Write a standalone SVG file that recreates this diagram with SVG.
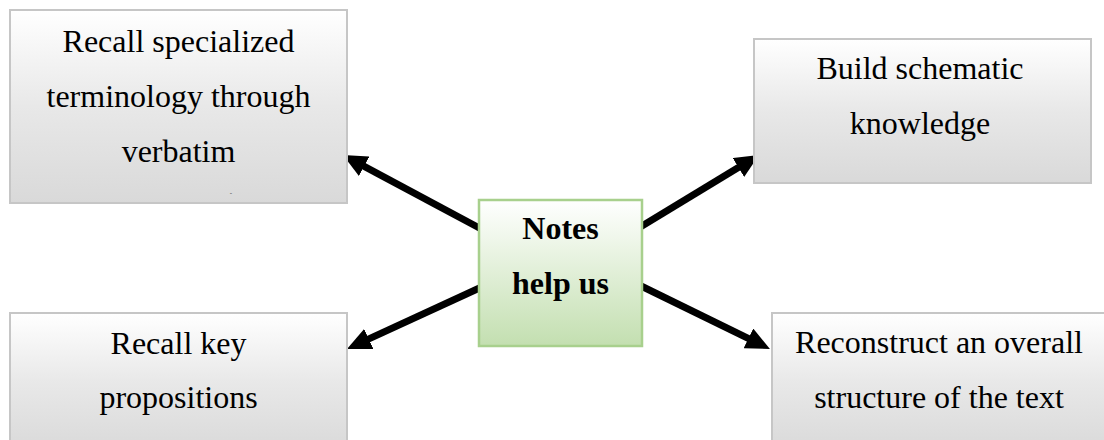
<svg xmlns="http://www.w3.org/2000/svg" width="1104" height="440" viewBox="0 0 1104 440">
<defs>
<linearGradient id="gGray" x1="0" y1="0" x2="0" y2="1">
<stop offset="0" stop-color="#ffffff"/>
<stop offset="0.5" stop-color="#e8e8e8"/>
<stop offset="1" stop-color="#d9d9d9"/>
</linearGradient>
<linearGradient id="gGreen" x1="0" y1="0" x2="0" y2="1">
<stop offset="0" stop-color="#ffffff"/>
<stop offset="1" stop-color="#c3dfb0"/>
</linearGradient>
<marker id="ah" viewBox="0 0 24 22" refX="10" refY="11" markerWidth="24" markerHeight="22" markerUnits="userSpaceOnUse" orient="auto">
<path d="M0,0 L24,11 L0,22 z" fill="#000"/>
</marker>
</defs>
<style>
.box{fill:url(#gGray);stroke:#c6c6c6;stroke-width:2}
.center{fill:url(#gGreen);stroke:#a8d08d;stroke-width:2.5}
.t{font-family:"Liberation Serif","Times New Roman",serif;font-size:32px;fill:#000;text-anchor:middle}
.b{font-weight:bold}
.arrow{stroke:#000;stroke-width:7;fill:none;marker-end:url(#ah)}
</style>
<rect width="1104" height="440" fill="#ffffff"/>
<g id="connectors">
<line class="arrow" x1="485" y1="231" x2="355.3" y2="161.6"/>
<line class="arrow" x1="637" y1="229" x2="747" y2="162.3"/>
<line class="arrow" x1="486" y1="285" x2="359.7" y2="343.1"/>
<line class="arrow" x1="637" y1="284" x2="757.4" y2="342.8"/>
</g>
<g id="node-terminology">
<rect class="box" x="10" y="10" width="337" height="193"/>
<text class="t" x="178.5" y="52">Recall specialized</text>
<text class="t" x="178.5" y="107">terminology through</text>
<text class="t" x="178.5" y="162">verbatim</text>
<text x="231" y="195" style="font-family:'Liberation Serif',serif;font-size:7px;fill:#333;text-anchor:middle">-</text>
</g>
<g id="node-schematic">
<rect class="box" x="754" y="39" width="337" height="144"/>
<text class="t" x="920" y="79">Build schematic</text>
<text class="t" x="920" y="134">knowledge</text>
</g>
<g id="node-propositions">
<rect class="box" x="10" y="313" width="337" height="140"/>
<text class="t" x="178.5" y="354">Recall key</text>
<text class="t" x="178.5" y="408">propositions</text>
</g>
<g id="node-structure">
<rect class="box" x="772" y="313" width="337" height="140"/>
<text class="t" x="939" y="353">Reconstruct an overall</text>
<text class="t" x="939" y="408">structure of the text</text>
</g>
<g id="node-center">
<rect class="center" x="479" y="200" width="163" height="146"/>
<text class="t b" x="560.5" y="239">Notes</text>
<text class="t b" x="560.5" y="294">help us</text>
</g>
</svg>
